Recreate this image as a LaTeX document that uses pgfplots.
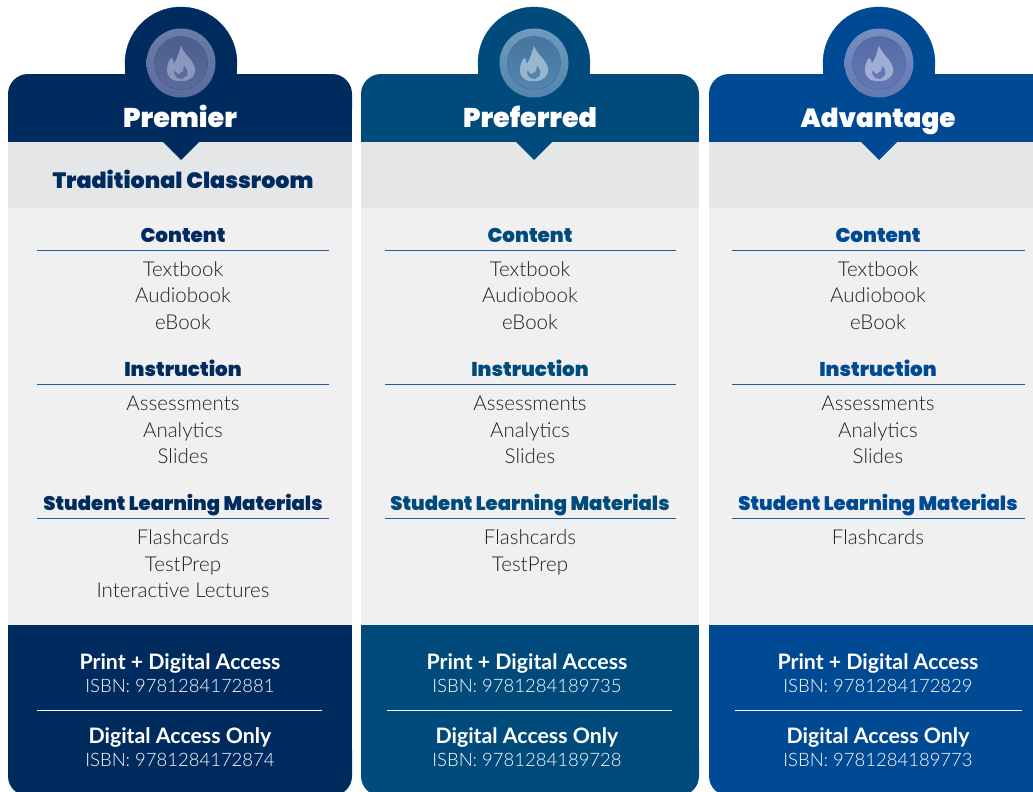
\documentclass[border=0pt]{standalone}
\usepackage{pgfplots}
\pgfplotsset{compat=1.18}
\usepackage{fontspec}
\setmainfont{Lato}
\newfontfamily\heavy{Poppins Black}
\newfontfamily\bodyf{Lato Light}
\newfontfamily\subf{Lato Bold}
\definecolor{cA}{HTML}{002B5F}
\definecolor{cB}{HTML}{004B7C}
\definecolor{cC}{HTML}{004A93}
\definecolor{grayA}{HTML}{E5E6E8}
\definecolor{grayB}{HTML}{F0F0F0}
\definecolor{rule}{HTML}{1F5C99}
\definecolor{txt}{HTML}{231F20}
\definecolor{aL}{HTML}{6C7DA8}\definecolor{aM}{HTML}{5A6C9C}\definecolor{aD}{HTML}{4C5E8E}\definecolor{aF}{HTML}{8A98BE}
\definecolor{bL}{HTML}{6F9ABD}\definecolor{bM}{HTML}{5485AE}\definecolor{bD}{HTML}{4476A0}\definecolor{bF}{HTML}{98B6D0}
\definecolor{dL}{HTML}{7A8DC2}\definecolor{dM}{HTML}{6478B3}\definecolor{dD}{HTML}{566AA8}\definecolor{dF}{HTML}{A0AED6}
\newcommand{\panel}[3]{%
 \addplot[fill=#3,draw=none,rounded corners=20] coordinates {(#1,74)(#2,74)(#2,130)(#1,130)} --cycle;
 \addplot[fill=#3,draw=none] coordinates {(#1,100)(#2,100)(#2,141.5)(#1,141.5)} --cycle;
 \addplot[fill=grayA,draw=none] coordinates {(#1,141.5)(#2,141.5)(#2,208)(#1,208)} --cycle;
 \addplot[fill=grayB,draw=none] coordinates {(#1,208)(#2,208)(#2,625)(#1,625)} --cycle;
 \addplot[fill=#3,draw=none] coordinates {(#1,625)(#2,625)(#2,760)(#1,760)} --cycle;
 \addplot[fill=#3,draw=none,rounded corners=20] coordinates {(#1,730)(#2,730)(#2,796)(#1,796)} --cycle;
}
\newcommand{\badge}[6]{%
 \addplot[only marks,mark=*,mark size=56,mark options={fill=#2,draw=#2}] coordinates {(#1,63)};
 \addplot[x filter/.code={\pgfmathparse{\pgfmathresult+#1}},fill=#2,draw=none] coordinates {(-56,63)(56,63)(56,80)(-56,80)} --cycle;
 \addplot[x filter/.code={\pgfmathparse{\pgfmathresult+#1}},fill=#2,draw=none] coordinates {(-19,141)(19,141)(0,160)} --cycle;
 \path[top color=#3,bottom color=#4] (axis cs:#1,63) circle[radius=34.5];
 \path[top color=#5,bottom color=#4,draw=#5,line width=0.8pt] (axis cs:#1,63) circle[radius=26.5];
 \addplot[x filter/.code={\pgfmathparse{\pgfmathresult+#1}},fill=#6,draw=none,smooth,tension=0.55] coordinates {(0,46)(4,53)(10,60)(14,68)(13,75)(7,80)(0,81)(-8,80)(-13,75)(-14,68)(-12,61)(-9,58)(-7,63)(-4,58)(-2,52)} --cycle;
 \addplot[x filter/.code={\pgfmathparse{\pgfmathresult+#1}},fill=#4,draw=none,smooth,tension=0.5] coordinates {(1,79)(6,75)(6,70)(3,66)(2,71)(-3,74)(-6,71)(-7,73)(-4,78)} --cycle;
}
\newcommand{\phead}[5][19.9]{\node[anchor=base,text=#4,inner sep=0pt,font=\heavy\fontsize{#1}{20}\selectfont] at (axis cs:#2,#3) {#5};}
\newcommand{\ptitle}[4]{\node[anchor=base,text=white,inner sep=0pt,font=\heavy\fontsize{#4}{27}\selectfont] at (axis cs:#1,#2) {#3};}
\newcommand{\rulex}[3]{\addplot[draw=rule,line width=0.9pt] coordinates {(#1,#3)(#2,#3)};}
\newcommand{\pbody}[3]{\node[anchor=base,text=txt,inner sep=0pt,font=\bodyf\fontsize{20.5}{21}\selectfont] at (axis cs:#1,#2) {#3};}
\newcommand{\common}[4]{%
 \phead{#1}{242}{#4}{Content}\rulex{#2}{#3}{250}
 \pbody{#1}{276}{Textbook}\pbody{#1}{302.5}{Audiobook}\pbody{#1}{329}{eBook}
 \phead{#1}{376}{#4}{Instruction}\rulex{#2}{#3}{384}
 \pbody{#1}{410}{Assessments}\pbody{#1}{437}{Analytics}\pbody{#1}{463}{Slides}
 \phead[19.6]{#1}{510}{#4}{Student Learning Materials}\rulex{#2}{#3}{518}
 \pbody{#1}{544.5}{Flashcards}
}
\newcommand{\pfoot}[5]{%
 \node[anchor=base,text=white,inner sep=0pt,font=\subf\fontsize{21.3}{22}\selectfont] at (axis cs:#1,669) {Print + Digital Access};
 \node[anchor=base,text=white,inner sep=0pt,font=\bodyf\fontsize{18.5}{20}\selectfont] at (axis cs:#1,692) {ISBN: #4};
 \addplot[draw=white,line width=0.8pt] coordinates {(#2,710.5)(#3,710.5)};
 \node[anchor=base,text=white,inner sep=0pt,font=\subf\fontsize{21.3}{22}\selectfont] at (axis cs:#1,743) {Digital Access Only};
 \node[anchor=base,text=white,inner sep=0pt,font=\bodyf\fontsize{18.5}{20}\selectfont] at (axis cs:#1,766) {ISBN: #5};
}
\begin{document}
\begin{tikzpicture}
\begin{axis}[
  hide axis, scale only axis, width=1033pt, height=792pt,
  xmin=0, xmax=1033, ymin=0, ymax=792, y dir=reverse, clip=true, clip marker paths=true]
\path (axis cs:0,0) rectangle (axis cs:1033,792);
\panel{8}{352}{cA}
\panel{361}{699}{cB}
\panel{709}{1060}{cC}
\badge{181}{cA}{aL}{aM}{aD}{aF}
\badge{534}{cB}{bL}{bM}{bD}{bF}
\badge{879}{cC}{dL}{dM}{dD}{dF}
\ptitle{180}{127}{Premier}{27}
\ptitle{530}{127}{Preferred}{27}
\ptitle{878}{127}{Advantage}{26.2}
\node[anchor=base,text=cA,inner sep=0pt,font=\heavy\fontsize{22.2}{23}\selectfont] at (axis cs:183,188) {Traditional Classroom};
\common{183}{37}{329}{cA}
\common{530}{385}{676}{cB}
\common{878}{732}{1025}{cC}
\pbody{183}{571.5}{TestPrep}
\pbody{183}{597.5}{Interactive Lectures}
\pbody{530}{571.5}{TestPrep}
\pfoot{180}{37}{322}{9781284172881}{9781284172874}
\pfoot{527}{387}{672}{9781284189735}{9781284189728}
\pfoot{878}{735}{1022}{9781284172829}{9781284189773}
\end{axis}
\end{tikzpicture}
\end{document}
